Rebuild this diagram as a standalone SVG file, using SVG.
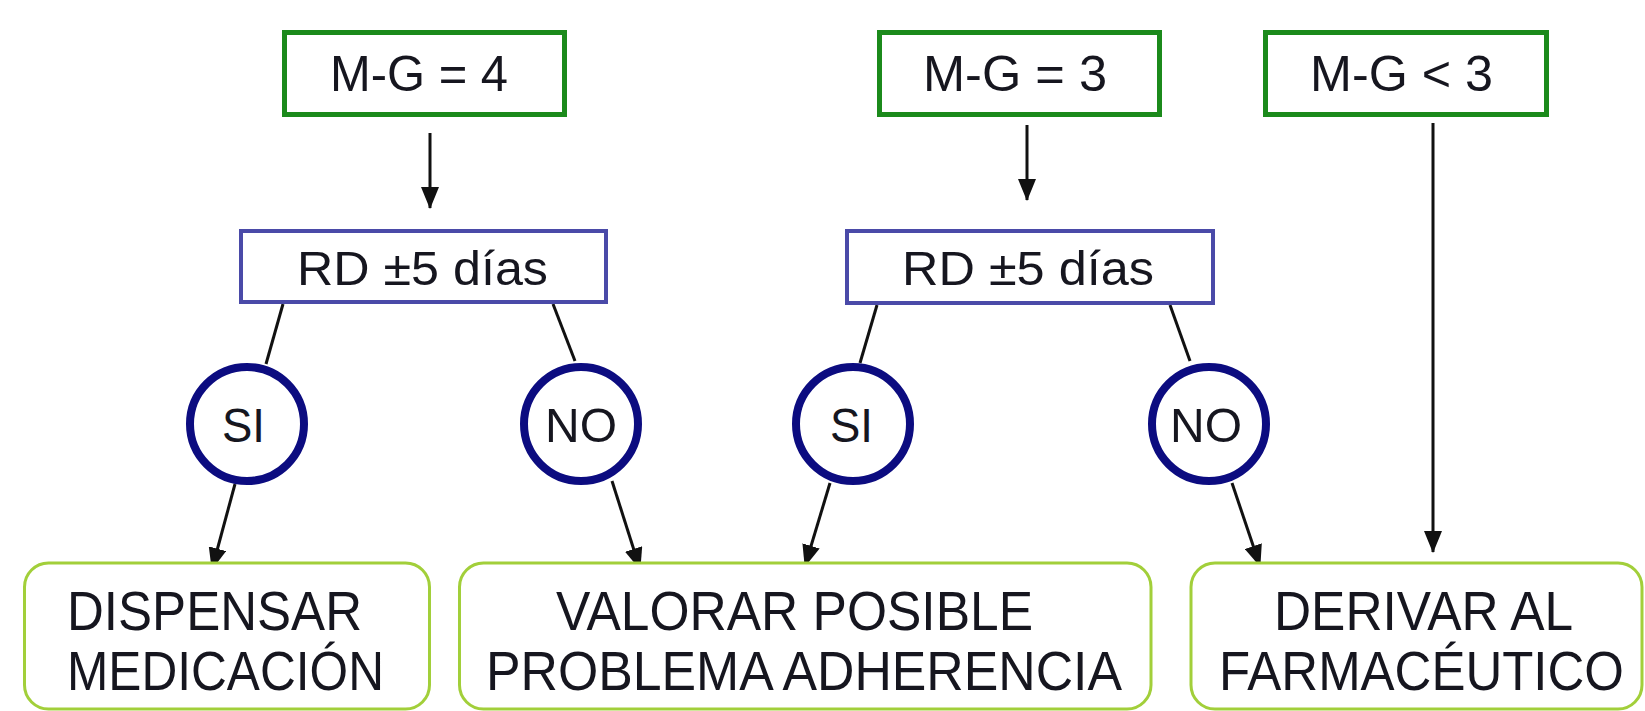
<svg xmlns="http://www.w3.org/2000/svg" width="1645" height="711" viewBox="0 0 1645 711">
<defs>
<marker id="ah" viewBox="0 0 22 18" markerWidth="22" markerHeight="18" refX="21" refY="9" orient="auto" markerUnits="userSpaceOnUse">
<path d="M0,0 L22,9 L0,18 z" fill="#111"/>
</marker>
<style>
.t{font-family:"Liberation Sans",Arial,sans-serif;fill:#16161f;}
.top{fill:#fff;stroke:#1b8a1b;stroke-width:5;}
.rd{fill:#fff;stroke:#4a4aa8;stroke-width:4;}
.c{fill:#fff;stroke:#0c0c80;stroke-width:8;}
.bot{fill:#fff;stroke:#a2cf3a;stroke-width:3;}
.ln{stroke:#111;stroke-width:3;fill:none;}
</style>
</defs>
<rect width="1645" height="711" fill="#fff"/>
<g id="connectors">
<line class="ln" x1="430" y1="133" x2="430" y2="208" marker-end="url(#ah)"/>
<line class="ln" x1="1027" y1="125" x2="1027" y2="200" marker-end="url(#ah)"/>
<line class="ln" x1="1433" y1="123" x2="1433" y2="552" marker-end="url(#ah)"/>
<line class="ln" x1="283" y1="304" x2="266" y2="364"/>
<line class="ln" x1="553" y1="304" x2="575" y2="361"/>
<line class="ln" x1="877" y1="305" x2="860" y2="363"/>
<line class="ln" x1="1170" y1="305" x2="1190" y2="361"/>
<line class="ln" x1="235" y1="484" x2="212" y2="569" marker-end="url(#ah)"/>
<line class="ln" x1="612" y1="481" x2="640" y2="569" marker-end="url(#ah)"/>
<line class="ln" x1="830" y1="483" x2="805" y2="566" marker-end="url(#ah)"/>
<line class="ln" x1="1232" y1="483" x2="1260" y2="566" marker-end="url(#ah)"/>
</g>
<g id="mg4"><rect class="top" x="284.5" y="32.5" width="280" height="82"/><text class="t" x="330" y="91" font-size="50" textLength="178" lengthAdjust="spacingAndGlyphs">M-G = 4</text></g>
<g id="mg3"><rect class="top" x="879.5" y="32.5" width="280" height="82"/><text class="t" x="923" y="91" font-size="50" textLength="184" lengthAdjust="spacingAndGlyphs">M-G = 3</text></g>
<g id="mglt3"><rect class="top" x="1265.5" y="32.5" width="281" height="82"/><text class="t" x="1310" y="91" font-size="50" textLength="183" lengthAdjust="spacingAndGlyphs">M-G &lt; 3</text></g>
<g id="rd1"><rect class="rd" x="241" y="231" width="365" height="71"/><text class="t" x="297" y="285" font-size="49" textLength="251" lengthAdjust="spacingAndGlyphs">RD ±5 días</text></g>
<g id="rd2"><rect class="rd" x="847" y="231" width="366" height="72"/><text class="t" x="902" y="285" font-size="49" textLength="252" lengthAdjust="spacingAndGlyphs">RD ±5 días</text></g>
<g id="si1"><circle class="c" cx="247" cy="424" r="57"/><text class="t" x="222" y="442" font-size="49" textLength="43" lengthAdjust="spacingAndGlyphs">SI</text></g>
<g id="no1"><circle class="c" cx="581" cy="424" r="57"/><text class="t" x="545" y="442" font-size="49" textLength="72" lengthAdjust="spacingAndGlyphs">NO</text></g>
<g id="si2"><circle class="c" cx="853" cy="424" r="57"/><text class="t" x="830" y="442" font-size="49" textLength="43" lengthAdjust="spacingAndGlyphs">SI</text></g>
<g id="no2"><circle class="c" cx="1209" cy="424" r="57"/><text class="t" x="1170" y="442" font-size="49" textLength="72" lengthAdjust="spacingAndGlyphs">NO</text></g>
<g id="dispensar"><rect class="bot" x="24.5" y="563" width="405" height="146" rx="24"/>
<text class="t" x="67" y="630" font-size="56" textLength="295" lengthAdjust="spacingAndGlyphs">DISPENSAR</text>
<text class="t" x="67" y="690" font-size="56" textLength="317" lengthAdjust="spacingAndGlyphs">MEDICACIÓN</text></g>
<g id="valorar"><rect class="bot" x="459.5" y="563" width="691.5" height="146" rx="24"/>
<text class="t" x="556" y="630" font-size="56" textLength="477" lengthAdjust="spacingAndGlyphs">VALORAR POSIBLE</text>
<text class="t" x="486" y="690" font-size="56" textLength="636" lengthAdjust="spacingAndGlyphs">PROBLEMA ADHERENCIA</text></g>
<g id="derivar"><rect class="bot" x="1191" y="563" width="451" height="146" rx="24"/>
<text class="t" x="1274" y="630" font-size="56" textLength="299" lengthAdjust="spacingAndGlyphs">DERIVAR AL</text>
<text class="t" x="1219" y="690" font-size="56" textLength="405" lengthAdjust="spacingAndGlyphs">FARMACÉUTICO</text></g>
</svg>
